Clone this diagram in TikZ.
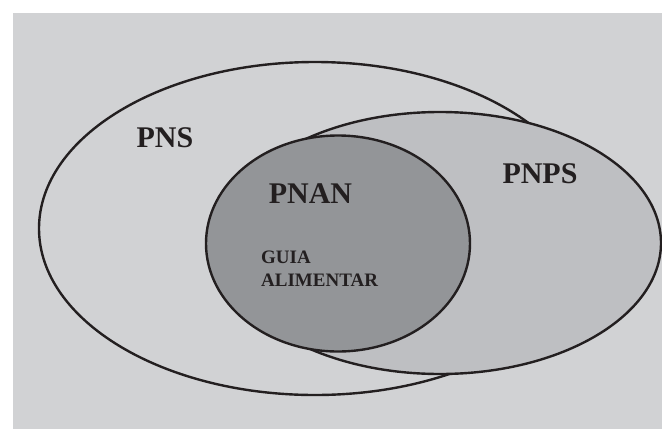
\documentclass[tikz,border=0pt]{standalone}
\usepackage{fontspec}
\setmainfont{Liberation Serif}
\definecolor{fondo}{HTML}{D1D2D4}
\definecolor{claro}{HTML}{BEBFC2}
\definecolor{escuro}{HTML}{939598}
\definecolor{tinta}{HTML}{231F20}
\tikzset{
  conj/.style={draw=tinta,line width=2.4pt},
  rotulo/.style={font=\fontsize{30}{30}\selectfont\bfseries,text=tinta,inner sep=0pt},
  nota/.style={font=\fontsize{19}{23}\selectfont\bfseries,text=tinta,inner sep=0pt,align=left}
}
\begin{document}
\begin{tikzpicture}[x=1pt,y=-1pt,line join=round,line cap=round]
				\useasboundingbox (0,0) rectangle (662,429);
				\fill[white] (0,0) rectangle (662,429);
				\fill[fondo] (13,13) rectangle (662,429);
				% os tres conjuntos
				\draw[conj,fill=fondo] (315,228.5) ellipse [x radius=276pt,y radius=166.5pt];
				\draw[conj,fill=claro] (440,243) ellipse [x radius=221pt,y radius=131pt];
				\draw[conj,fill=escuro] (338,243.5) ellipse [x radius=132pt,y radius=108pt];
				% rotulos
				\node[rotulo] (pns) at (165,138) {PNS};
				\node[rotulo] (pnps) at (540,174) {PNPS};
				\node[rotulo] (pnan) at (310.5,194) {PNAN};
				\node[nota,anchor=north west] (guia) at (261,251) {GUIA\\ALIMENTAR};
			\end{tikzpicture}
\end{document}
